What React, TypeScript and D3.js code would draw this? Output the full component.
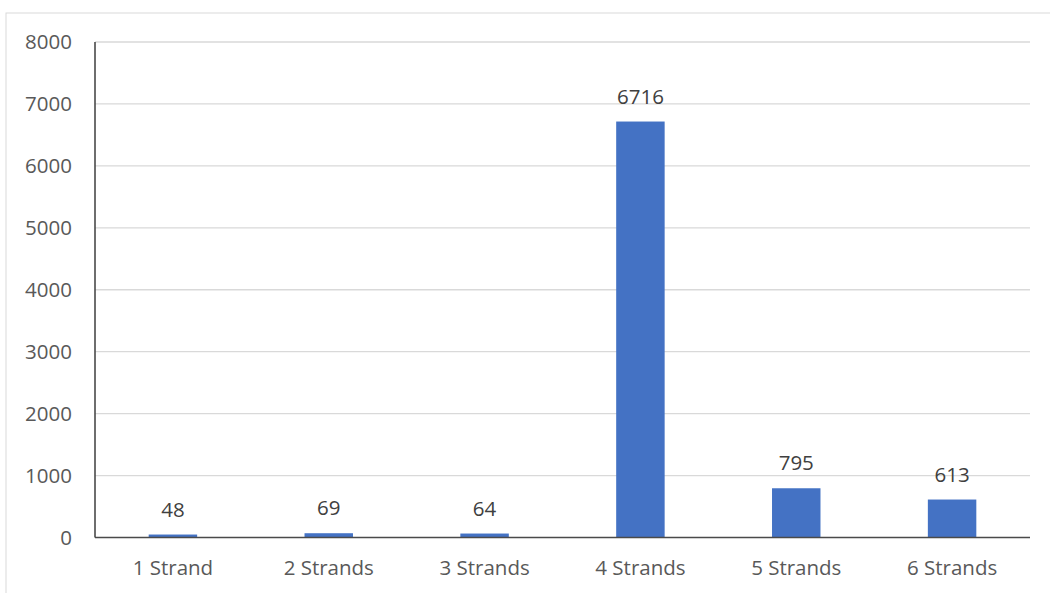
import React from "react";
import * as d3 from "d3";

const categories = ["1 Strand", "2 Strands", "3 Strands", "4 Strands", "5 Strands", "6 Strands"];
const values = [48, 69, 64, 6716, 795, 613];
const yTicks = [0, 1000, 2000, 3000, 4000, 5000, 6000, 7000, 8000];

const W = 1050;
const H = 593;
const plot = { left: 95, right: 1030, top: 42, bottom: 537.5 };
const FONT = "'Open Sans', 'Liberation Sans', sans-serif";
const FS = 20.5;
const TXT = "#595959";

export default function App() {
  const x = d3.scaleBand<string>().domain(categories).range([plot.left, plot.right]).padding(0);
  const y = d3.scaleLinear().domain([0, 8000]).range([plot.bottom, plot.top]);
  const barW = x.bandwidth() * 0.311;

  return (
    <svg width={W} height={H} style={{ position: "fixed", left: 0, top: 0, background: "#fff" }}>
      <rect x={6} y={13} width={W + 10} height={H + 10} fill="#fff" stroke="#d9d9d9" strokeWidth={1} />
      {yTicks.map((t) => (
        <g key={t}>
          {t > 0 && (
            <line x1={plot.left} x2={plot.right} y1={y(t)} y2={y(t)} stroke="#d9d9d9" strokeWidth={1.3} />
          )}
          <text x={72} y={y(t)} dy="0.35em" textAnchor="end" fontFamily={FONT} fontSize={FS} fill={TXT}>
            {t}
          </text>
        </g>
      ))}
      {categories.map((c, i) => {
        const cx = (x(c) as number) + x.bandwidth() / 2;
        return (
          <g key={c}>
            <rect x={cx - barW / 2} y={y(values[i])} width={barW} height={plot.bottom - y(values[i])} fill="#4472C4" />
            <text x={cx} y={y(values[i]) - 25} dy="0.35em" textAnchor="middle" fontFamily={FONT} fontSize={FS} fill="#404040">
              {values[i]}
            </text>
            <text x={cx} y={568} dy="0.35em" textAnchor="middle" fontFamily={FONT} fontSize={FS} fill={TXT}>
              {c}
            </text>
          </g>
        );
      })}
      <line x1={plot.left} x2={plot.left} y1={plot.top} y2={plot.bottom} stroke="#4a4a4a" strokeWidth={1.6} />
      <line x1={plot.left} x2={plot.right} y1={plot.bottom} y2={plot.bottom} stroke="#4a4a4a" strokeWidth={1.6} />
    </svg>
  );
}
